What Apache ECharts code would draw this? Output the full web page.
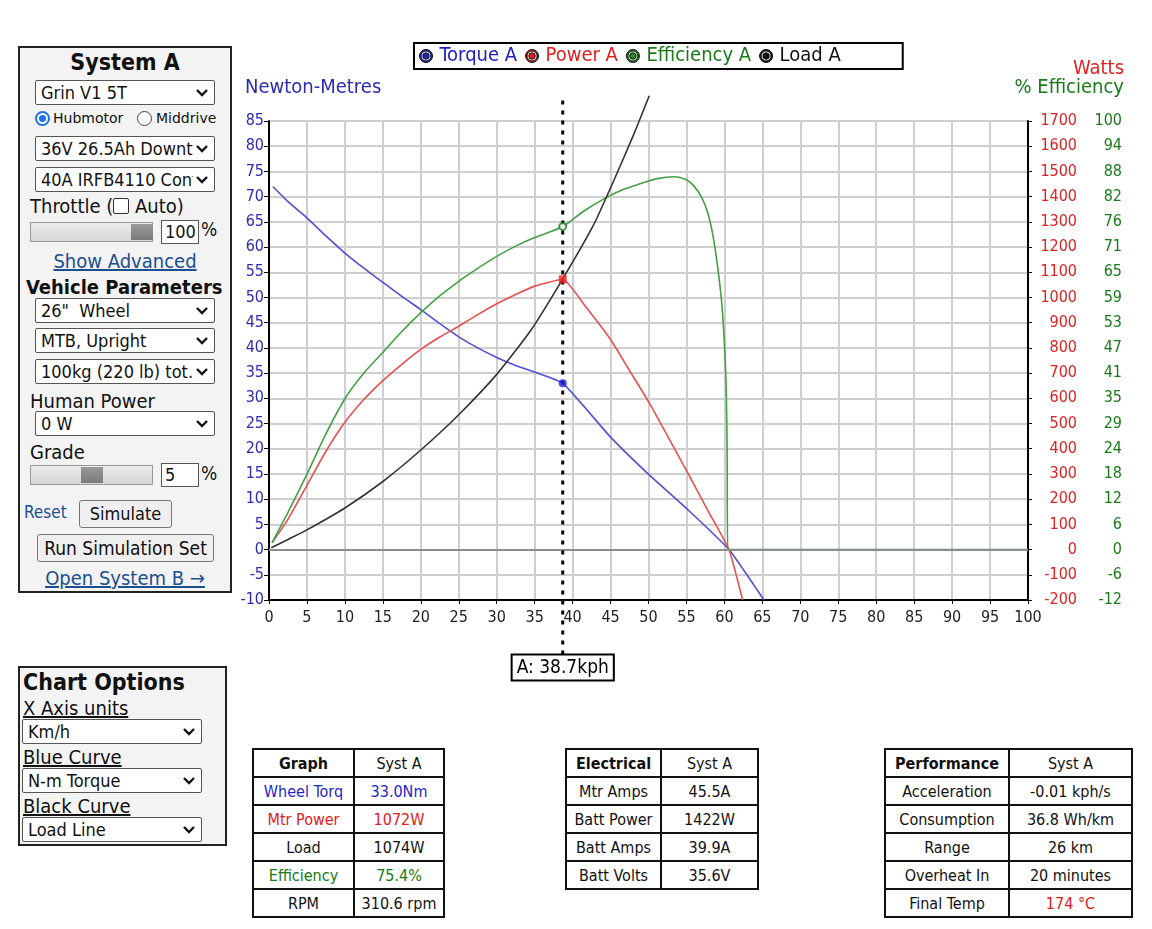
<!DOCTYPE html>
<html>
<head>
<meta charset="utf-8">
<script src="https://cdn.jsdelivr.net/npm/echarts@6/dist/echarts.min.js"></script>
<style>
  body { margin: 0; width: 1152px; height: 929px; position: relative; overflow: hidden; background: #fff;
    font-family: "DejaVu Sans Condensed", "DejaVu Sans", sans-serif; color: #111; }
  .abs { position: absolute; white-space: nowrap; }
  .panel { position: absolute; border: 2px solid #222; background: #f3f3f3; box-sizing: border-box; }
  .sel { position: absolute; height: 25px; width: 180px; border: 1px solid #555; border-radius: 2px; background: #fff;
    box-sizing: border-box; font-size: 18px; line-height: 23px; padding-left: 5px; white-space: nowrap; }
  .sel span { display: inline-block; width: 152px; overflow: hidden; }
  .sel svg { position: absolute; right: 6px; top: 8px; }
  .inp { position: absolute; height: 24px; border: 1px solid #555; background: #fff; box-sizing: border-box;
    font-size: 18px; line-height: 22px; padding-left: 3px; }
  .slider { position: absolute; height: 20px; width: 123px; border: 1px solid #999; box-sizing: border-box;
    background: linear-gradient(#ececec, #d6d6d6); }
  .thumb { position: absolute; top: 1px; height: 16px; width: 22px; background: linear-gradient(#9a9a9a, #7a7a7a); }
  .btn { position: absolute; border: 1px solid #777; border-radius: 3px; background: #efefef; box-sizing: border-box;
    text-align: center; font-size: 18px; }
  .lnk { color: #1b4f8f; text-decoration: underline; }
  .radio { position: absolute; width: 15px; height: 15px; border-radius: 50%; box-sizing: border-box; background: #fff; }
  .rlabel { position: absolute; font-family: "DejaVu Sans", sans-serif; font-size: 14px; white-space: nowrap; }
  table { position: absolute; border-collapse: collapse; font-size: 16px; }
  td, th { border: 2px solid #111; height: 26px; text-align: center; padding: 0; white-space: nowrap; }
  .blue { color: #2525c8; } .red { color: #e02020; } .green { color: #157a15; }
  #chart { position: absolute; left: 230px; top: 30px; width: 922px; height: 670px; }
</style>
</head>
<body>
<div id="chart"></div>

<!-- System A panel -->
<div class="panel" style="left:18px;top:46px;width:214px;height:547px;"></div>
<div class="abs" style="left:18px;width:214px;text-align:center;top:49px;font-size:23px;font-weight:bold;">System A</div>
<div class="sel" style="left:35px;top:80px;"><span>Grin V1 5T</span><svg width="12" height="8"><polyline points="1,1 6,6 11,1" fill="none" stroke="#111" stroke-width="2.4"/></svg></div>
<div class="radio" style="left:35px;top:111px;border:2px solid #1a73e8;"><div style="position:absolute;left:2px;top:2px;width:7px;height:7px;border-radius:50%;background:#1a73e8;"></div></div>
<div class="rlabel" style="left:53px;top:110px;">Hubmotor</div>
<div class="radio" style="left:137px;top:111px;border:1px solid #444;"></div>
<div class="rlabel" style="left:156px;top:110px;">Middrive</div>
<div class="sel" style="left:35px;top:136px;"><span>36V 26.5Ah Downtube</span><svg width="12" height="8"><polyline points="1,1 6,6 11,1" fill="none" stroke="#111" stroke-width="2.4"/></svg></div>
<div class="sel" style="left:35px;top:167px;"><span>40A IRFB4110 Controller</span><svg width="12" height="8"><polyline points="1,1 6,6 11,1" fill="none" stroke="#111" stroke-width="2.4"/></svg></div>
<div class="abs" style="left:30px;top:194px;font-size:20px;">Throttle (<span style="display:inline-block;width:14px;height:14px;border:1.5px solid #333;border-radius:2px;background:#fff;vertical-align:-1px;"></span> Auto)</div>
<div class="slider" style="left:30px;top:222px;"><div class="thumb" style="left:100px;"></div></div>
<div class="inp" style="left:161px;top:220px;width:38px;">100</div>
<div class="abs" style="left:201px;top:218px;font-size:19px;">%</div>
<div class="abs lnk" style="left:18px;width:214px;text-align:center;top:249px;font-size:20px;">Show Advanced</div>
<div class="abs" style="left:26px;top:275px;font-size:20px;font-weight:bold;">Vehicle Parameters</div>
<div class="sel" style="left:35px;top:298px;"><span>26"&nbsp; Wheel</span><svg width="12" height="8"><polyline points="1,1 6,6 11,1" fill="none" stroke="#111" stroke-width="2.4"/></svg></div>
<div class="sel" style="left:35px;top:328px;"><span>MTB, Upright</span><svg width="12" height="8"><polyline points="1,1 6,6 11,1" fill="none" stroke="#111" stroke-width="2.4"/></svg></div>
<div class="sel" style="left:35px;top:359px;"><span>100kg (220 lb) tot.</span><svg width="12" height="8"><polyline points="1,1 6,6 11,1" fill="none" stroke="#111" stroke-width="2.4"/></svg></div>
<div class="abs" style="left:30px;top:389px;font-size:20px;">Human Power</div>
<div class="sel" style="left:35px;top:411px;"><span>0 W</span><svg width="12" height="8"><polyline points="1,1 6,6 11,1" fill="none" stroke="#111" stroke-width="2.4"/></svg></div>
<div class="abs" style="left:30px;top:440px;font-size:20px;">Grade</div>
<div class="slider" style="left:30px;top:465px;"><div class="thumb" style="left:50px;"></div></div>
<div class="inp" style="left:161px;top:463px;width:38px;">5</div>
<div class="abs" style="left:201px;top:462px;font-size:19px;">%</div>
<div class="abs" style="left:24px;top:502px;font-size:17px;color:#1b4f8f;">Reset</div>
<div class="btn" style="left:79px;top:500px;width:93px;height:28px;line-height:26px;">Simulate</div>
<div class="btn" style="left:37px;top:534px;width:177px;height:28px;line-height:26px;font-size:19px;">Run Simulation Set</div>
<div class="abs lnk" style="left:18px;width:214px;text-align:center;top:566px;font-size:20px;">Open System B &rarr;</div>

<!-- Chart options panel -->
<div class="panel" style="left:18px;top:666px;width:209px;height:180px;"></div>
<div class="abs" style="left:23px;top:669px;font-size:23px;font-weight:bold;">Chart Options</div>
<div class="abs" style="left:23px;top:696px;font-size:20px;text-decoration:underline;">X Axis units</div>
<div class="sel" style="left:22px;top:719px;"><span>Km/h</span><svg width="12" height="8"><polyline points="1,1 6,6 11,1" fill="none" stroke="#111" stroke-width="2.4"/></svg></div>
<div class="abs" style="left:23px;top:745px;font-size:20px;text-decoration:underline;">Blue Curve</div>
<div class="sel" style="left:22px;top:768px;"><span>N-m Torque</span><svg width="12" height="8"><polyline points="1,1 6,6 11,1" fill="none" stroke="#111" stroke-width="2.4"/></svg></div>
<div class="abs" style="left:23px;top:794px;font-size:20px;text-decoration:underline;">Black Curve</div>
<div class="sel" style="left:22px;top:817px;"><span>Load Line</span><svg width="12" height="8"><polyline points="1,1 6,6 11,1" fill="none" stroke="#111" stroke-width="2.4"/></svg></div>

<!-- result tables -->
<table style="left:252px;top:748px;">
  <tr><th style="width:99px">Graph</th><td style="width:88px">Syst A</td></tr>
  <tr><td class="blue">Wheel Torq</td><td class="blue">33.0Nm</td></tr>
  <tr><td class="red">Mtr Power</td><td class="red">1072W</td></tr>
  <tr><td>Load</td><td>1074W</td></tr>
  <tr><td class="green">Efficiency</td><td class="green">75.4%</td></tr>
  <tr><td>RPM</td><td>310.6 rpm</td></tr>
</table>
<table style="left:565px;top:748px;">
  <tr><th style="width:93px">Electrical</th><td style="width:95px">Syst A</td></tr>
  <tr><td>Mtr Amps</td><td>45.5A</td></tr>
  <tr><td>Batt Power</td><td>1422W</td></tr>
  <tr><td>Batt Amps</td><td>39.9A</td></tr>
  <tr><td>Batt Volts</td><td>35.6V</td></tr>
</table>
<table style="left:884px;top:748px;">
  <tr><th style="width:122px">Performance</th><td style="width:121px">Syst A</td></tr>
  <tr><td>Acceleration</td><td>-0.01 kph/s</td></tr>
  <tr><td>Consumption</td><td>36.8 Wh/km</td></tr>
  <tr><td>Range</td><td>26 km</td></tr>
  <tr><td>Overheat In</td><td>20 minutes</td></tr>
  <tr><td>Final Temp</td><td class="red">174 &deg;C</td></tr>
</table>

<script>
// curves (x = km/h)
const speedTorque = [0.5, 2.5, 5, 7.5, 10, 12.5, 15, 17.5, 20, 22.5, 25, 27.5, 30, 32.5, 35, 38.7, 45, 50.1, 55.4, 60.6, 64.0, 65.2]
const torqueNm = [72.0, 69.0, 65.8, 62.2, 58.8, 55.8, 53.0, 50.2, 47.6, 44.8, 42.2, 40.0, 38.1, 36.5, 35.2, 33.0, 22.3, 14.8, 7.6, 0, -7.3, -10]

const speedPower = [0.4, 2.5, 5, 7.5, 10, 12.5, 15, 17.5, 20, 22.5, 25, 27.5, 30, 32.5, 35, 38.7, 41.8, 45.0, 47.5, 50.1, 52.7, 55.4, 58.0, 60.6, 62.4]
const powerW = [27, 120, 255, 390, 505, 595, 670, 735, 794, 843, 886, 932, 975, 1012, 1045, 1072, 960, 833, 710, 582, 440, 291, 145, 0, -200]

const speedEff = [0.4, 2.5, 5, 7.5, 10, 12.5, 15, 17.5, 20, 22.5, 25, 27.5, 30, 32.5, 35, 38.7, 41.5, 44.3, 46.5, 49.0, 51.0, 53.4, 55.0, 56.0, 57.0, 57.8, 58.5, 59.1, 59.6, 59.9, 60.2, 60.35, 60.45, 61.0, 100]
const efficiencyPct = [1.6, 8.7, 17.6, 27.0, 35.2, 41.2, 46.0, 50.9, 55.3, 59.2, 62.6, 65.6, 68.4, 70.8, 72.8, 75.4, 79.0, 82.0, 83.9, 85.4, 86.5, 87.0, 86.3, 84.8, 82.2, 78.6, 73.2, 66.1, 58.5, 51.3, 39.7, 25, 0, 0, 0]

const speedLoad = [0.3, 2.5, 5, 10, 15, 20, 25, 30, 34.5, 38.7, 42.8, 45.3, 48.1, 50.1]
const loadW = [7, 40, 78, 165, 270, 395, 535, 695, 870, 1074, 1290, 1455, 1650, 1800]

// operating point under the cursor
const cursorSpeed = 38.7
const cursorTorque = 33.0
const cursorPower = 1072
const cursorEff = 75.4
const cursorLabel = 'A: 38.7kph'
const cursorSpan = [-20.8, 90] // how far the dotted cursor runs, in Nm units

const legendNames = ['Torque A', 'Power A', 'Efficiency A', 'Load A']

const FONT = '"DejaVu Sans Condensed", "DejaVu Sans", sans-serif'
const BLUE = '#5050d6'
const RED = '#e85050'
const GREEN = '#45a045'
const BLACK = '#333'

const zip = (xs, ys) => xs.map((x, i) => [x, ys[i]])
const ringDot = 'path://M1,12A11,11 0 1,1 23,12A11,11 0 1,1 1,12Z M3.5,12A8.5,8.5 0 1,0 20.5,12A8.5,8.5 0 1,0 3.5,12Z M6.5,12A5.5,5.5 0 1,1 17.5,12A5.5,5.5 0 1,1 6.5,12Z'
const legendItem = (name, dot, text) => ({
  name,
  itemStyle: { color: dot, borderColor: '#111', borderWidth: 1 },
  textStyle: { color: text },
})

const chart = echarts.init(document.getElementById('chart'))

chart.setOption({
  animation: false,
  textStyle: { fontFamily: FONT },
  title: [
    { text: 'Newton-Metres', left: 15, top: 48, padding: 0, textStyle: { color: '#2b2bb5', fontSize: 20, fontWeight: 'normal', fontFamily: FONT } },
    { text: 'Watts', right: 28, top: 29, padding: 0, textStyle: { color: '#dd2222', fontSize: 20, fontWeight: 'normal', fontFamily: FONT } },
    { text: '% Efficiency', right: 28, top: 48, padding: 0, textStyle: { color: '#1a7a1a', fontSize: 20, fontWeight: 'normal', fontFamily: FONT } },
  ],
  legend: {
    left: 184,
    top: 13,
    orient: 'horizontal',
    borderColor: '#000',
    borderWidth: 2,
    padding: [3, 62, 3, 5],
    itemGap: 8,
    itemWidth: 13,
    itemHeight: 13,
    icon: ringDot,
    textStyle: { fontSize: 20, fontFamily: FONT, padding: [0, 0, 0, 2] },
    data: [
      legendItem(legendNames[0], '#2020d0', '#2020c0'),
      legendItem(legendNames[1], '#e82020', '#e02020'),
      legendItem(legendNames[2], '#1f8f1f', '#1a7a1a'),
      legendItem(legendNames[3], '#111', '#111'),
    ],
  },
  grid: { left: 39, top: 91, right: 124, height: 479 },
  xAxis: {
    type: 'value',
    min: 0,
    max: 100,
    interval: 5,
    axisLine: { onZero: false, lineStyle: { color: '#000', width: 2 } },
    axisTick: { show: true, length: 4, lineStyle: { color: '#000' } },
    axisLabel: { color: '#222', fontSize: 16, margin: 10 },
    splitLine: { lineStyle: { color: '#cfcfcf', width: 2 } },
  },
  yAxis: [
    {
      type: 'value',
      position: 'left',
      min: -10,
      max: 85,
      interval: 5,
      axisLine: { show: true, lineStyle: { color: '#000', width: 2 } },
      axisTick: { show: true, length: 5, lineStyle: { color: '#000' } },
      axisLabel: { color: '#2b2bb5', fontSize: 16, margin: 5 },
      splitLine: { lineStyle: { color: '#cfcfcf', width: 2 } },
    },
    {
      type: 'value',
      position: 'right',
      min: -200,
      max: 1700,
      interval: 100,
      axisLine: { show: true, lineStyle: { color: '#000', width: 2 } },
      axisTick: { show: true, length: 4, lineStyle: { color: '#000' } },
      axisLabel: { color: '#dd2222', fontSize: 16, align: 'right', margin: 49, formatter: v => String(v) },
      splitLine: { show: false },
    },
    {
      type: 'value',
      position: 'right',
      min: -200 / 17,
      max: 100,
      interval: 100 / 17,
      axisLine: { show: false },
      axisTick: { show: false },
      axisLabel: { color: '#1a7a1a', fontSize: 16, align: 'right', margin: 94, formatter: v => String(Math.round(v)) },
      splitLine: { show: false },
    },
  ],
  series: [
    {
      name: legendNames[0],
      type: 'line',
      yAxisIndex: 0,
      data: zip(speedTorque, torqueNm),
      smooth: 0.15,
      showSymbol: false,
      color: BLUE,
      lineStyle: { width: 1.6 },
      markLine: {
        silent: true,
        symbol: 'none',
        label: { show: false },
        lineStyle: { color: '#8c8c8c', width: 2, type: 'solid' },
        data: [{ yAxis: 0 }],
      },
    },
    {
      name: legendNames[1],
      type: 'line',
      yAxisIndex: 1,
      data: zip(speedPower, powerW),
      smooth: 0.15,
      showSymbol: false,
      color: RED,
      lineStyle: { width: 1.6 },
    },
    {
      name: legendNames[2],
      type: 'line',
      yAxisIndex: 2,
      data: zip(speedEff, efficiencyPct),
      smooth: 0.3,
      showSymbol: false,
      color: GREEN,
      lineStyle: { width: 1.6 },
    },
    {
      name: legendNames[3],
      type: 'line',
      yAxisIndex: 1,
      data: zip(speedLoad, loadW),
      smooth: 0.2,
      showSymbol: false,
      clip: false,
      color: BLACK,
      lineStyle: { width: 1.6 },
    },
    {
      name: 'cursor',
      type: 'line',
      yAxisIndex: 0,
      clip: false,
      showSymbol: false,
      z: 5,
      lineStyle: { color: '#000', width: 3, type: [4, 6] },
      data: cursorSpan.map(v => [cursorSpeed, v]),
    },
    {
      name: 'cursorLabel',
      type: 'scatter',
      yAxisIndex: 0,
      clip: false,
      z: 7,
      symbolSize: 2,
      itemStyle: { color: '#000', opacity: 1 },
      label: {
        show: true,
        position: 'bottom',
        distance: 0,
        formatter: cursorLabel,
        color: '#000',
        opacity: 1,
        fontSize: 19,
        fontFamily: FONT,
        backgroundColor: '#fff',
        borderColor: '#000',
        borderWidth: 2,
        padding: [3, 4, 2, 4],
      },
      labelLayout: { hideOverlap: false },
      data: [[cursorSpeed, cursorSpan[0]]],
    },
    {
      name: 'pTorque',
      type: 'scatter',
      yAxisIndex: 0,
      z: 6,
      symbol: 'circle',
      symbolSize: 8,
      itemStyle: { color: '#2222dd' },
      data: [[cursorSpeed, cursorTorque]],
    },
    {
      name: 'pPower',
      type: 'scatter',
      yAxisIndex: 1,
      z: 6,
      symbol: 'rect',
      symbolSize: 8,
      itemStyle: { color: '#ee2222' },
      data: [[cursorSpeed, cursorPower]],
    },
    {
      name: 'pEff',
      type: 'scatter',
      yAxisIndex: 2,
      z: 6,
      symbol: 'circle',
      symbolSize: 7,
      itemStyle: { color: '#fff', borderColor: '#157a15', borderWidth: 2 },
      data: [[cursorSpeed, cursorEff]],
    },
  ],
})
</script>
</body>
</html>
